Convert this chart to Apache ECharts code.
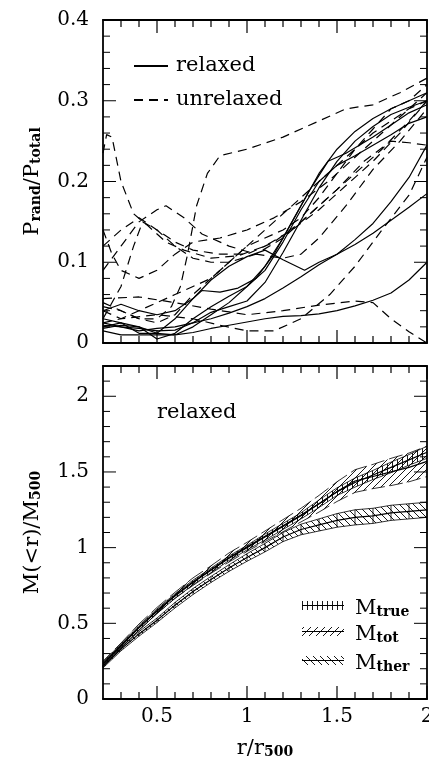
<!DOCTYPE html>
<html>
<head>
<meta charset="utf-8">
<script src="https://cdn.jsdelivr.net/npm/echarts/dist/echarts.min.js"></script>
<style>
html, body { margin: 0; padding: 0; background: #fff; }
#chart { width: 429px; height: 769px; }
</style>
</head>
<body>
<div id="chart"></div>
<script>
// top panel: P_rand/P_total profiles, [r/r500, value]
const rel1 = [[0.2,0.03],[0.3,0.025],[0.4,0.012],[0.5,0.012],[0.6,0.03],[0.7,0.055],[0.8,0.078],[0.9,0.095],[1.0,0.107],[1.1,0.115],[1.2,0.103],[1.32,0.09],[1.4,0.1],[1.5,0.11],[1.6,0.128],[1.7,0.148],[1.8,0.175],[1.9,0.205],[2.0,0.245]]
const rel2 = [[0.2,0.022],[0.3,0.02],[0.4,0.015],[0.5,0.018],[0.6,0.02],[0.7,0.025],[0.8,0.03],[0.9,0.037],[1.0,0.045],[1.1,0.055],[1.2,0.068],[1.3,0.082],[1.4,0.097],[1.5,0.11],[1.6,0.122],[1.7,0.136],[1.8,0.152],[1.9,0.168],[2.0,0.185]]
const rel3 = [[0.2,0.015],[0.3,0.01],[0.4,0.01],[0.5,0.01],[0.6,0.01],[0.7,0.013],[0.8,0.018],[0.9,0.022],[1.0,0.026],[1.1,0.03],[1.2,0.033],[1.3,0.034],[1.4,0.036],[1.5,0.04],[1.6,0.046],[1.7,0.053],[1.8,0.062],[1.9,0.078],[2.0,0.1]]
const rel4 = [[0.2,0.04],[0.3,0.048],[0.4,0.04],[0.5,0.035],[0.6,0.04],[0.7,0.055],[0.75,0.065],[0.85,0.063],[0.95,0.068],[1.05,0.08],[1.15,0.11],[1.25,0.15],[1.35,0.19],[1.45,0.225],[1.55,0.235],[1.7,0.255],[1.8,0.27],[1.9,0.285],[2.0,0.295]]
const rel5 = [[0.2,0.02],[0.3,0.025],[0.4,0.02],[0.5,0.012],[0.6,0.01],[0.7,0.02],[0.8,0.035],[0.9,0.05],[1.0,0.07],[1.1,0.095],[1.2,0.13],[1.3,0.17],[1.4,0.21],[1.5,0.24],[1.6,0.262],[1.7,0.278],[1.8,0.29],[1.9,0.3],[2.0,0.31]]
const rel6 = [[0.2,0.025],[0.3,0.02],[0.4,0.018],[0.5,0.015],[0.6,0.016],[0.7,0.025],[0.8,0.038],[0.9,0.045],[1.0,0.052],[1.1,0.075],[1.2,0.112],[1.3,0.152],[1.4,0.192],[1.5,0.225],[1.6,0.25],[1.7,0.268],[1.8,0.283],[1.9,0.292],[2.0,0.3]]
const rel7 = [[0.2,0.018],[0.3,0.022],[0.4,0.02],[0.5,0.005],[0.6,0.012],[0.7,0.03],[0.8,0.045],[0.9,0.058],[1.0,0.07],[1.1,0.09],[1.2,0.125],[1.3,0.165],[1.4,0.2],[1.5,0.22],[1.6,0.232],[1.7,0.245],[1.8,0.258],[1.9,0.272],[2.0,0.28]]

const unr1 = [[0.2,0.235],[0.22,0.258],[0.25,0.255],[0.3,0.2],[0.37,0.16],[0.45,0.145],[0.55,0.125],[0.65,0.115],[0.8,0.105],[0.95,0.108],[1.1,0.12],[1.25,0.14],[1.4,0.165],[1.55,0.195],[1.7,0.225],[1.85,0.26],[2.0,0.3]]
const unr2 = [[0.2,0.05],[0.3,0.04],[0.4,0.03],[0.5,0.03],[0.58,0.045],[0.63,0.07],[0.67,0.11],[0.72,0.17],[0.78,0.21],[0.85,0.232],[1.0,0.24],[1.2,0.255],[1.4,0.275],[1.55,0.29],[1.7,0.295],[1.85,0.31],[2.0,0.328]]
const unr3 = [[0.2,0.09],[0.3,0.12],[0.4,0.15],[0.5,0.165],[0.55,0.17],[0.65,0.155],[0.75,0.135],[0.9,0.12],[1.05,0.11],[1.2,0.105],[1.3,0.11],[1.4,0.13],[1.55,0.17],[1.7,0.215],[1.85,0.25],[2.0,0.29]]
const unr4 = [[0.2,0.055],[0.4,0.057],[0.6,0.05],[0.8,0.042],[1.0,0.035],[1.2,0.04],[1.4,0.047],[1.6,0.052],[1.7,0.05],[1.8,0.03],[1.9,0.014],[2.0,0.0]]
const unr5 = [[0.2,0.04],[0.3,0.03],[0.5,0.035],[0.7,0.03],[0.85,0.022],[1.0,0.015],[1.15,0.015],[1.3,0.03],[1.46,0.06],[1.6,0.095],[1.75,0.14],[1.9,0.183],[2.0,0.23]]
const unr6 = [[0.2,0.14],[0.25,0.11],[0.3,0.09],[0.4,0.08],[0.5,0.09],[0.6,0.11],[0.7,0.125],[0.85,0.13],[1.0,0.14],[1.15,0.155],[1.3,0.175],[1.45,0.2],[1.6,0.23],[1.75,0.26],[1.9,0.29],[2.0,0.31]]
const unr7 = [[0.2,0.03],[0.3,0.07],[0.37,0.12],[0.42,0.15],[0.5,0.14],[0.6,0.12],[0.7,0.105],[0.8,0.1],[0.9,0.1],[1.05,0.11],[1.2,0.13],[1.35,0.16],[1.5,0.19],[1.65,0.225],[1.8,0.25],[1.9,0.248],[2.0,0.245]]
const unr8 = [[0.2,0.12],[0.3,0.14],[0.4,0.155],[0.5,0.14],[0.6,0.125],[0.7,0.115],[0.85,0.11],[1.0,0.11],[1.15,0.125],[1.3,0.15],[1.45,0.18],[1.6,0.21],[1.75,0.24],[1.9,0.275],[2.0,0.3]]
const unr9 = [[0.2,0.045],[0.3,0.04],[0.4,0.03],[0.5,0.025],[0.6,0.035],[0.7,0.06],[0.8,0.08],[0.9,0.1],[1.0,0.12],[1.1,0.13],[1.2,0.14],[1.3,0.155],[1.4,0.18],[1.5,0.21],[1.6,0.24],[1.7,0.265],[1.8,0.29],[1.9,0.3],[2.0,0.32]]
const unr10 = [[0.2,0.025],[0.3,0.03],[0.4,0.04],[0.5,0.05],[0.6,0.06],[0.7,0.07],[0.8,0.08],[0.9,0.1],[1.0,0.12],[1.1,0.14],[1.2,0.16],[1.3,0.18],[1.4,0.2],[1.5,0.22],[1.6,0.24],[1.7,0.26],[1.8,0.275],[1.9,0.29],[2.0,0.3]]

// bottom panel: M(<r)/M500, mean and half width of each band
const rBand = [0.2,0.3,0.4,0.5,0.6,0.7,0.8,0.9,1.0,1.1,1.2,1.3,1.4,1.5,1.6,1.7,1.8,1.9,2.0]
const mTrue = [0.23,0.35,0.47,0.58,0.68,0.77,0.85,0.93,1.0,1.07,1.14,1.21,1.29,1.37,1.43,1.48,1.53,1.58,1.63]
const mTrueErr = [0.015,0.015,0.015,0.015,0.015,0.015,0.015,0.015,0.015,0.02,0.02,0.02,0.025,0.025,0.03,0.03,0.035,0.035,0.04]
const mTot = [0.235,0.355,0.475,0.585,0.685,0.775,0.855,0.935,1.005,1.075,1.145,1.215,1.29,1.37,1.44,1.47,1.5,1.53,1.57]
const mTotErr = [0.015,0.015,0.02,0.02,0.02,0.025,0.025,0.03,0.03,0.035,0.04,0.045,0.055,0.065,0.075,0.08,0.09,0.095,0.1]
const mTher = [0.215,0.33,0.43,0.52,0.62,0.71,0.79,0.865,0.935,1.0,1.07,1.12,1.15,1.18,1.2,1.21,1.23,1.24,1.25]
const mTherErr = [0.01,0.012,0.015,0.015,0.018,0.02,0.02,0.022,0.025,0.028,0.03,0.035,0.04,0.045,0.05,0.05,0.05,0.05,0.05]

// tick positions (major / minor)
const xMajor = [0.5, 1, 1.5, 2]
const xMinor = [0.3, 0.4, 0.6, 0.7, 0.8, 0.9, 1.1, 1.2, 1.3, 1.4, 1.6, 1.7, 1.8, 1.9]
const pMajor = [0.1, 0.2, 0.3]
const pMinor = [0.02, 0.04, 0.06, 0.08, 0.12, 0.14, 0.16, 0.18, 0.22, 0.24, 0.26, 0.28, 0.32, 0.34, 0.36, 0.38]
const mMajor = [0.5, 1, 1.5, 2]
const mMinor = [0.1, 0.2, 0.3, 0.4, 0.6, 0.7, 0.8, 0.9, 1.1, 1.2, 1.3, 1.4, 1.6, 1.7, 1.8, 1.9, 2.1]

const FONT = 'DejaVu Serif'
const relaxedLines = [rel1, rel2, rel3, rel4, rel5, rel6, rel7]
const unrelaxedLines = [unr1, unr2, unr3, unr4, unr5, unr6, unr7, unr8, unr9, unr10]

// hatch patterns for the bands
function hatch(kind) {
    const s = kind == 'v' ? 5 : 7
    const c = document.createElement('canvas')
    c.width = s
    c.height = s
    const g = c.getContext('2d')
    g.strokeStyle = '#000'
    g.lineWidth = 0.9
    g.beginPath()
    if (kind == 'v') {
        g.moveTo(2.5, 0); g.lineTo(2.5, s)
    } else if (kind == '/') {
        g.moveTo(0, s); g.lineTo(s, 0)
        g.moveTo(-1, 1); g.lineTo(1, -1)
        g.moveTo(s - 1, s + 1); g.lineTo(s + 1, s - 1)
    } else {
        g.moveTo(0, 0); g.lineTo(s, s)
        g.moveTo(-1, s - 1); g.lineTo(1, s + 1)
        g.moveTo(s - 1, -1); g.lineTo(s + 1, 1)
    }
    g.stroke()
    return { image: c, repeat: 'repeat' }
}
const patTrue = hatch('v')
const patTot = hatch('/')
const patTher = hatch('\\')

function segments(mean, err) {
    let out = []
    for (let i = 0; i < rBand.length - 1; i++) {
        out.push([rBand[i], mean[i] - err[i], mean[i] + err[i],
                  rBand[i + 1], mean[i + 1] - err[i + 1], mean[i + 1] + err[i + 1]])
    }
    return out
}

function bandRender(pattern, dash, boxed) {
    return function (params, api) {
        const a = api.coord([api.value(0), api.value(1)])
        const b = api.coord([api.value(0), api.value(2)])
        const c = api.coord([api.value(3), api.value(4)])
        const d = api.coord([api.value(3), api.value(5)])
        const edge = { stroke: '#000', lineWidth: 0.8, lineDash: dash }
        let children = [
            { type: 'polygon', shape: { points: [a, c, d, b] }, style: { fill: pattern } },
            { type: 'line', shape: { x1: a[0], y1: a[1], x2: c[0], y2: c[1] }, style: edge },
            { type: 'line', shape: { x1: b[0], y1: b[1], x2: d[0], y2: d[1] }, style: edge }
        ]
        if (boxed) {
            children.push({ type: 'line', shape: { x1: a[0], y1: a[1], x2: b[0], y2: b[1] }, style: { stroke: '#000', lineWidth: 0.8 } })
        }
        return { type: 'group', children: children }
    }
}

// inward ticks, placed through the axis scales
const MAJOR_LEN = 13
const MINOR_LEN = 7
// ticks on the horizontal axes: rect symbols sitting on the bottom / top edge
function xTickMarks(xi, yi, yEdge, values, len, down) {
    return {
        type: 'scatter', xAxisIndex: xi, yAxisIndex: yi, silent: true, clip: false, z: 6,
        data: values.map(v => [v, yEdge]),
        symbol: 'rect', symbolSize: [1.2, len],
        symbolOffset: [0, down ? len / 2 : -len / 2],
        itemStyle: { color: '#000', opacity: 1 },
        emphasis: { disabled: true }
    }
}
// ticks on the vertical axes, left and right edges
function yTickSeries(xi, yi, major, minor) {
    const data = major.map(v => [0, v]).concat(minor.map(v => [1, v]))
    return {
        type: 'custom', xAxisIndex: xi, yAxisIndex: yi, silent: true, clip: false, z: 5,
        data: data, encode: { y: 1 },
        renderItem: function (params, api) {
            const len = api.value(0) == 0 ? MAJOR_LEN : MINOR_LEN
            const lo = api.coord([0.2, api.value(1)])
            const hi = api.coord([2, api.value(1)])
            const st = { stroke: '#000', lineWidth: 1 }
            return { type: 'group', children: [
                { type: 'line', shape: { x1: lo[0], y1: lo[1], x2: lo[0] + len, y2: lo[1] }, style: st },
                { type: 'line', shape: { x1: hi[0], y1: hi[1], x2: hi[0] - len, y2: hi[1] }, style: st }
            ] }
        }
    }
}

const richSub = {
    n: { fontFamily: FONT, fontSize: 21, color: '#000', lineHeight: 26, verticalAlign: 'bottom' },
    s: { fontFamily: FONT, fontSize: 14, fontWeight: 'bold', color: '#000', lineHeight: 4, verticalAlign: 'bottom' }
}

function xAxisFor(grid, pos, showLabel, name) {
    return {
        type: 'value', gridIndex: grid, position: pos, min: 0.2, max: 2, splitNumber: 4,
        name: name || '', nameLocation: 'middle', nameGap: 34,
        nameTextStyle: { rich: richSub },
        axisLine: { show: true, onZero: false, lineStyle: { color: '#000', width: 1.8 } },
        axisTick: { show: false },
        minorTick: { show: false },
        splitLine: { show: false },
        axisLabel: {
            show: showLabel, margin: 8, fontFamily: FONT, fontSize: 20, color: '#000',
            formatter: v => Math.abs(v * 2 - Math.round(v * 2)) < 1e-6 ? String(v) : ''
        }
    }
}
function yAxisFor(grid, pos, showLabel, max, step, name) {
    return {
        type: 'value', gridIndex: grid, position: pos, min: 0, max: max, interval: step,
        name: name || '', nameLocation: 'middle', nameGap: 60, nameRotate: 90,
        nameTextStyle: { rich: richSub },
        axisLine: { show: true, onZero: false, lineStyle: { color: '#000', width: 1.8 } },
        axisTick: { show: false },
        minorTick: { show: false },
        splitLine: { show: false },
        axisLabel: {
            show: showLabel, margin: 14, fontFamily: FONT, fontSize: 20, color: '#000',
            formatter: v => {
                let k = v / step
                return Math.abs(k - Math.round(k)) < 1e-6 ? String(Math.round(v * 10) / 10) : ''
            }
        }
    }
}

let series = []
relaxedLines.forEach(d => {
    series.push({
        type: 'line', name: 'relaxed', data: d, xAxisIndex: 0, yAxisIndex: 0,
        symbol: 'none', silent: true, itemStyle: { color: '#000' },
        lineStyle: { color: '#000', width: 1.2 }
    })
})
unrelaxedLines.forEach(d => {
    series.push({
        type: 'line', name: 'unrelaxed', data: d, xAxisIndex: 0, yAxisIndex: 0,
        symbol: 'none', silent: true, itemStyle: { color: '#000' },
        lineStyle: { color: '#000', width: 1.2, type: [9, 6] }
    })
})

// bands, thermal first so the true band is on top
const bands = [
    { name: 'M_ther', mean: mTher, err: mTherErr, pat: patTher, dash: null, boxed: true },
    { name: 'M_tot', mean: mTot, err: mTotErr, pat: patTot, dash: [12, 5], boxed: false },
    { name: 'M_true', mean: mTrue, err: mTrueErr, pat: patTrue, dash: null, boxed: false }
]
bands.forEach(b => {
    series.push({
        type: 'custom', name: b.name, xAxisIndex: 2, yAxisIndex: 2, silent: true,
        data: segments(b.mean, b.err), encode: { x: [0, 3], y: [1, 2, 4, 5] },
        renderItem: bandRender(b.pat, b.dash, b.boxed)
    })
    series.push({
        type: 'line', name: b.name + '_mean', xAxisIndex: 2, yAxisIndex: 2, silent: true,
        data: rBand.map((x, i) => [x, b.mean[i]]), symbol: 'none',
        lineStyle: { color: '#000', width: 1.2 }
    })
})

// top panel ticks
series.push(xTickMarks(0, 0, 0, xMajor, MAJOR_LEN, false))
series.push(xTickMarks(0, 0, 0, xMinor, MINOR_LEN, false))
series.push(xTickMarks(0, 0, 0.4, xMajor, MAJOR_LEN, true))
series.push(xTickMarks(0, 0, 0.4, xMinor, MINOR_LEN, true))
series.push(yTickSeries(0, 0, pMajor, pMinor))
// bottom panel ticks
series.push(xTickMarks(2, 2, 0, xMajor, MAJOR_LEN, false))
series.push(xTickMarks(2, 2, 0, xMinor, MINOR_LEN, false))
series.push(xTickMarks(2, 2, 2.2, xMajor, MAJOR_LEN, true))
series.push(xTickMarks(2, 2, 2.2, xMinor, MINOR_LEN, true))
series.push(yTickSeries(2, 2, mMajor, mMinor))

function legendText(main, sub) {
    return '{n|' + main + '}{s|' + sub + '}'
}
const legendRows = [
    { y: 601, pat: patTrue, text: legendText('M', 'true') },
    { y: 627, pat: patTot, text: legendText('M', 'tot') },
    { y: 656, pat: patTher, text: legendText('M', 'ther') }
]
let graphic = [
    { type: 'text', left: 157, top: 402, style: { text: 'relaxed', fontFamily: FONT, fontSize: 21, fill: '#000' } }
]
legendRows.forEach(r => {
    graphic.push({ type: 'rect', shape: { x: 302, y: r.y, width: 42, height: 9 }, style: { fill: r.pat } })
    graphic.push({ type: 'line', shape: { x1: 302, y1: r.y + 4.5, x2: 344, y2: r.y + 4.5 }, style: { stroke: '#000', lineWidth: 1 } })
    graphic.push({ type: 'text', x: 355, y: r.y + 5, style: { text: r.text, rich: richSub, verticalAlign: 'middle', fill: '#000' } })
})

let myChart = echarts.init(document.getElementById('chart'))
let option = {
    animation: false,
    backgroundColor: '#fff',
    grid: [
        { left: 103, top: 20, width: 324, height: 323, outerBoundsMode: 'none', containLabel: false },
        { left: 103, top: 366, width: 324, height: 333, outerBoundsMode: 'none', containLabel: false }
    ],
    xAxis: [
        xAxisFor(0, 'bottom', false),
        xAxisFor(0, 'top', false),
        xAxisFor(1, 'bottom', true, legendText('r/r', '500')),
        xAxisFor(1, 'top', false)
    ],
    yAxis: [
        yAxisFor(0, 'left', true, 0.4, 0.1, '{n|P}{s|rand}{n|/P}{s|total}'),
        yAxisFor(0, 'right', false, 0.4, 0.1),
        yAxisFor(1, 'left', true, 2.2, 0.5, '{n|M(<r)/M}{s|500}'),
        yAxisFor(1, 'right', false, 2.2, 0.5)
    ],
    legend: {
        data: ['relaxed', 'unrelaxed'], orient: 'vertical', left: 128, top: 49,
        itemWidth: 34, itemHeight: 12, itemGap: 10, selectedMode: false,
        itemStyle: { opacity: 0 },
        textStyle: { fontFamily: FONT, fontSize: 21, color: '#000', lineHeight: 24, padding: [0, 0, 0, 3] }
    },
    graphic: graphic,
    series: series
}
myChart.setOption(option)
</script>
</body>
</html>
